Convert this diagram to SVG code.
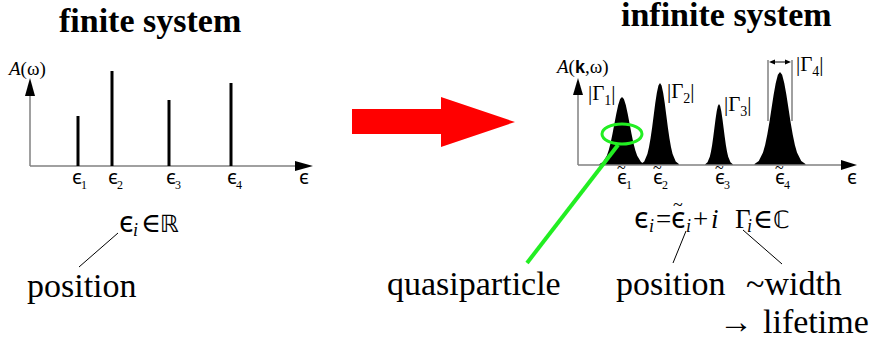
<svg xmlns="http://www.w3.org/2000/svg" xmlns:xlink="http://www.w3.org/1999/xlink" width="871" height="341" viewBox="0 0 871 341">
<style>
.t{font-family:"Liberation Serif","DejaVu Serif",serif;fill:#000}
.title{font-size:34px;font-weight:bold}
.big{font-size:34px}
.lab{font-size:19px}
.sub{font-size:12px}
.f{font-size:27px}
.e{font-family:"Noto Sans","DejaVu Sans",sans-serif;font-size:20px}
.fe{font-family:"Noto Sans","DejaVu Sans",sans-serif;font-size:29px}
.til{font-family:"Liberation Serif",serif;font-size:16px}
.ax{stroke:#808080;stroke-width:1.5;fill:none}
.bar{stroke:#000;stroke-width:3}
.thin{stroke:#000;stroke-width:1;fill:none}
.green{stroke:#22ee22;fill:none}
</style>
<defs>
<path id="gauss" d="M-3,0 L-3,-0.0111 -2.5,-0.0439 -2,-0.1353 -1.75,-0.2163 -1.5,-0.3247 -1.25,-0.4578 -1,-0.6065 -0.75,-0.7548 -0.5,-0.8825 -0.25,-0.9692 0,-1 0.25,-0.9692 0.5,-0.8825 0.75,-0.7548 1,-0.6065 1.25,-0.4578 1.5,-0.3247 1.75,-0.2163 2,-0.1353 2.5,-0.0439 3,-0.0111 3,0 Z" fill="#000"/>
</defs>
<rect width="871" height="341" fill="#fff"/>

<g id="finite-title"><text class="t title" x="59" y="32">finite system</text></g>

<g id="finite-plot">
<line class="ax" x1="30" y1="166" x2="30" y2="92"/>
<line class="ax" x1="30" y1="166" x2="298" y2="166"/>
<polygon points="30,78 25,96 35,96" fill="#000"/>
<polygon points="313,166 295,161 295,171" fill="#000"/>
<line class="bar" x1="78" y1="116" x2="78" y2="166"/>
<line class="bar" x1="112" y1="71" x2="112" y2="166"/>
<line class="bar" x1="169" y1="100" x2="169" y2="166"/>
<line class="bar" x1="231" y1="83" x2="231" y2="166"/>
<text class="t lab" x="9" y="75"><tspan font-style="italic">A</tspan>(ω)</text>
<text class="t" y="184"><tspan class="e" x="72">ϵ</tspan><tspan class="sub" x="81" dy="5">1</tspan></text>
<text class="t" y="184"><tspan class="e" x="108">ϵ</tspan><tspan class="sub" x="117" dy="5">2</tspan></text>
<text class="t" y="184"><tspan class="e" x="166">ϵ</tspan><tspan class="sub" x="175" dy="5">3</tspan></text>
<text class="t" y="184"><tspan class="e" x="227">ϵ</tspan><tspan class="sub" x="236" dy="5">4</tspan></text>
<text class="t e" x="299" y="184">ϵ</text>
</g>

<g id="finite-formula">
<text class="t f" y="232"><tspan class="fe" x="119">ϵ</tspan><tspan x="133" font-style="italic" font-size="18" dy="4">i</tspan><tspan x="141" dy="-4">∈</tspan><tspan x="160" font-family="DejaVu Sans,sans-serif" font-size="24">ℝ</tspan></text>
</g>

<g id="finite-position"><text class="t big" x="27" y="297">position</text></g>

<g id="red-arrow">
<polygon points="352,109 441,109 441,97 515,122 441,147 441,134 352,134" fill="#ff0000"/>
</g>

<g id="infinite-title"><text class="t title" x="621" y="26">infinite system</text></g>

<g id="infinite-plot">
<use xlink:href="#gauss" transform="translate(622,165) scale(7.6,68)"/>
<use xlink:href="#gauss" transform="translate(660,165) scale(6.3,82)"/>
<use xlink:href="#gauss" transform="translate(719,165) scale(4.6,61)"/>
<use xlink:href="#gauss" transform="translate(780,165) scale(8.5,93)"/>
<line class="ax" x1="578" y1="165" x2="578" y2="92"/>
<line class="ax" x1="578" y1="165" x2="845" y2="165"/>
<polygon points="578,78 573,95 583,95" fill="#000"/>
<polygon points="857,165 841,160 841,170" fill="#000"/>
<line class="ax" x1="768" y1="60" x2="768" y2="121" stroke-width="1"/>
<line class="ax" x1="792" y1="60" x2="792" y2="121" stroke-width="1"/>
<line class="thin" x1="772" y1="62" x2="788" y2="62"/>
<polygon points="769,62 775,59.5 775,64.5" fill="#000"/>
<polygon points="791,62 785,59.5 785,64.5" fill="#000"/>
<text class="t lab" x="557" y="73"><tspan font-style="italic">A</tspan>(<tspan font-family="Liberation Sans,sans-serif" font-weight="bold" font-size="18">k</tspan>,ω)</text>
<text class="t" font-size="21" x="588" y="100">|Γ<tspan font-size="14" dy="5">1</tspan><tspan dy="-5">|</tspan></text>
<text class="t" font-size="21" x="667" y="98">|Γ<tspan font-size="14" dy="5">2</tspan><tspan dy="-5">|</tspan></text>
<text class="t" font-size="21" x="724" y="111">|Γ<tspan font-size="14" dy="5">3</tspan><tspan dy="-5">|</tspan></text>
<text class="t" font-size="21" x="796" y="71">|Γ<tspan font-size="14" dy="5">4</tspan><tspan dy="-5">|</tspan></text>
<text class="t" y="184"><tspan class="e" x="617">ϵ</tspan><tspan class="sub" x="626" dy="5">1</tspan></text>
<text class="t" y="184"><tspan class="e" x="653">ϵ</tspan><tspan class="sub" x="662" dy="5">2</tspan></text>
<text class="t" y="184"><tspan class="e" x="715">ϵ</tspan><tspan class="sub" x="724" dy="5">3</tspan></text>
<text class="t" y="184"><tspan class="e" x="775">ϵ</tspan><tspan class="sub" x="784" dy="5">4</tspan></text>
<text class="t til" x="617" y="173">~</text>
<text class="t til" x="653" y="173">~</text>
<text class="t til" x="715" y="173">~</text>
<text class="t til" x="775" y="173">~</text>
<text class="t e" x="847" y="184">ϵ</text>
<ellipse class="green" cx="622" cy="134" rx="20" ry="10" stroke-width="3"/>
</g>

<g id="infinite-formula">
<text class="t f" y="228"><tspan class="fe" x="634">ϵ</tspan><tspan x="649" dy="4" font-style="italic" font-size="18">i</tspan><tspan x="656" dy="-4">=</tspan><tspan class="fe" x="671">ϵ</tspan><tspan x="686" dy="4" font-style="italic" font-size="18">i</tspan><tspan x="693" dy="-4">+</tspan><tspan x="711" font-style="italic">i</tspan><tspan x="735">Γ</tspan><tspan x="747" dy="4" font-style="italic" font-size="18">i</tspan><tspan x="753" dy="-4">∈</tspan><tspan x="773" font-family="DejaVu Sans,sans-serif" font-size="24">ℂ</tspan></text>
<text class="t" font-size="18" x="673" y="211">~</text>
</g>

<g id="quasiparticle"><text class="t big" x="387" y="295">quasiparticle</text></g>
<g id="position"><text class="t big" x="616" y="295">position</text></g>
<g id="width"><text class="t big" x="746" y="295">~width</text></g>
<g id="lifetime"><text class="t big" y="333"><tspan x="719">→ </tspan><tspan x="763">lifetime</tspan></text></g>

<g id="connectors">
<line class="thin" x1="118" y1="233" x2="79" y2="267"/>
<line class="green" x1="618" y1="145" x2="527" y2="263" stroke-width="4"/>
<line class="thin" x1="686" y1="231" x2="673" y2="263"/>
<line class="thin" x1="743" y1="230" x2="782" y2="264"/>
</g>
</svg>
